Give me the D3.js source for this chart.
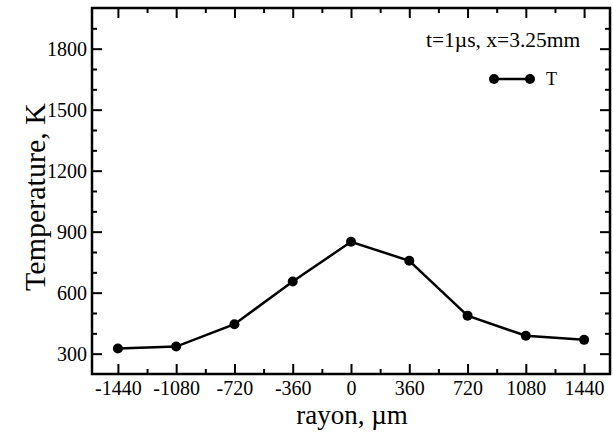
<!DOCTYPE html>
<html><head><meta charset="utf-8">
<script src="https://cdn.jsdelivr.net/npm/d3@7"></script>
<style>body{margin:0;background:#fff}svg{display:block}</style>
</head><body>
<script>
const radius = [-1440, -1080, -720, -360, 0, 360, 720, 1080, 1440];
const temperature = [325, 335, 445, 655, 850, 757, 487, 388, 368];
const xTicks = [-1440, -1080, -720, -360, 0, 360, 720, 1080, 1440];
const yTicks = [300, 600, 900, 1200, 1500, 1800];
const seriesName = "T";
const annotation = "t=1\u00b5s, x=3.25mm";

const W = 613, H = 432;
const m = {l: 92, r: 3, t: 8, b: 58};
const svg = d3.select("body").append("svg").attr("width", W).attr("height", H);
const x = d3.scaleLinear().domain([-1600, 1600]).range([m.l, W - m.r]);
const y = d3.scaleLinear().domain([200, 2000]).range([H - m.b, m.t]);
const font = "'Liberation Serif', 'Times New Roman', serif";
const fmt = d => String(d);

const xMinor = d3.range(-1620, 1621, 180).filter(v => v > -1600 && v < 1600 && !xTicks.includes(v));
const yMinor = d3.range(200, 2001, 100).filter(v => v > 200 && v < 2000 && !yTicks.includes(v));

function axis(gen, tr, ticks, len, labels) {
  const g = svg.append("g").attr("transform", tr)
    .call(gen.tickValues(ticks).tickFormat(fmt).tickSize(len).tickSizeOuter(0));
  g.attr("font-family", null).attr("font-size", null);
  if (!labels) g.selectAll("text").remove();
  g.select(".domain").remove();
  g.selectAll("line").attr("stroke", "#000").attr("stroke-width", 2);
  g.selectAll("text").style("font-family", font).style("font-size", "20px").attr("fill", "#000");
  return g;
}
// bottom
const gb = axis(d3.axisBottom(x), `translate(0,${H - m.b})`, xTicks, -10, true);
gb.selectAll("text").attr("y", 21).attr("dy", 0);
axis(d3.axisBottom(x), `translate(0,${H - m.b})`, xMinor, -5, false);
// top
axis(d3.axisTop(x), `translate(0,${m.t})`, xTicks, -10, false);
axis(d3.axisTop(x), `translate(0,${m.t})`, xMinor, -5, false);
// left
const gl = axis(d3.axisLeft(y), `translate(${m.l},0)`, yTicks, -10, true);
gl.selectAll("text").attr("x", -5);
axis(d3.axisLeft(y), `translate(${m.l},0)`, yMinor, -5, false);
// right
axis(d3.axisRight(y), `translate(${W - m.r},0)`, yTicks, -10, false);
axis(d3.axisRight(y), `translate(${W - m.r},0)`, yMinor, -5, false);

svg.append("rect").attr("x", m.l).attr("y", m.t)
  .attr("width", W - m.r - m.l).attr("height", H - m.b - m.t)
  .attr("fill", "none").attr("stroke", "#000").attr("stroke-width", 2.5);

const data = radius.map((r, i) => ({r, t: temperature[i]}));
svg.append("path").datum(data)
  .attr("d", d3.line().x(d => x(d.r)).y(d => y(d.t)))
  .attr("fill", "none").attr("stroke", "#000").attr("stroke-width", 2.5);
svg.selectAll("circle.pt").data(data).enter().append("circle")
  .attr("class", "pt").attr("cx", d => x(d.r)).attr("cy", d => y(d.t)).attr("r", 5).attr("fill", "#000");

// titles
svg.append("text").attr("x", 352).attr("y", 424).attr("text-anchor", "middle")
  .style("font-family", font).style("font-size", "27px").text("rayon, \u00b5m");
svg.append("text").attr("transform", `translate(45,197) rotate(-90)`)
  .attr("text-anchor", "middle").style("font-family", font).style("font-size", "30px").text("Temperature, K");

// annotation & legend
svg.append("text").attr("x", 426).attr("y", 47).style("font-family", font).style("font-size", "21.5px").text(annotation);
const lg = svg.append("g");
lg.append("line").attr("x1", 494).attr("x2", 530).attr("y1", 79).attr("y2", 79)
  .attr("stroke", "#000").attr("stroke-width", 2.5);
lg.selectAll("circle").data([494, 530]).enter().append("circle")
  .attr("cx", d => d).attr("cy", 79).attr("r", 5).attr("fill", "#000");
lg.append("text").attr("x", 546).attr("y", 85).style("font-family", font).style("font-size", "18px").text(seriesName);
</script>
</body></html>
